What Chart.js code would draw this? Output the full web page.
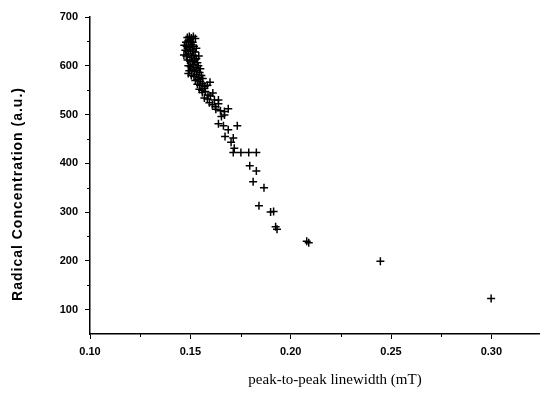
<!DOCTYPE html>
<html>
<head>
<meta charset="utf-8">
<script src="https://cdn.jsdelivr.net/npm/chart.js@4/dist/chart.umd.min.js"></script>
<style>
html,body{margin:0;padding:0;background:#fff;}
#wrap{width:545px;height:394px;position:relative;}
</style>
</head>
<body>
<div id="wrap"><canvas id="c" width="545" height="394"></canvas></div>
<script>
// ---- data ----
const linewidth = [
  0.1485,0.1495,0.1505,0.1515,0.1525,0.1490,0.1500,0.1512,0.1478,
  0.1470,0.1482,0.1494,0.1506,0.1518,0.1530,0.1475,0.1488,0.1500,0.1512,0.1524,
  0.1468,0.1480,0.1492,0.1505,0.1517,0.1530,0.1542,0.1486,0.1498,0.1510,0.1522,0.1535,
  0.1490,0.1502,0.1515,0.1528,0.1540,0.1550,0.1495,0.1508,0.1520,0.1533,0.1546,
  0.1505,0.1518,0.1530,0.1542,0.1555,0.1525,0.1538,0.1550,0.1562,0.1490,
  0.1535,0.1548,0.1560,0.1572,0.1545,0.1558,0.1570,0.1585,0.1598,
  0.1560,0.1575,0.1588,0.1600,0.1612,0.1570,0.1585,0.1620,0.1640,
  0.1595,0.1610,0.1625,0.1640,0.1627,0.1650,0.1670,0.1689,0.1670,0.1655,
  0.1640,0.1665,0.1689,0.1734,0.1673,0.1714,0.1703,0.1719,
  0.1714,0.1752,0.1791,0.1829,0.1796,0.1829,0.1813,0.1867,
  0.1842,0.1900,0.1915,0.1925,0.1932,0.2080,0.2090,0.2447,0.2999
];
const concentration = [
  658,660,657,660,656,652,650,648,648,
  642,640,638,643,640,636,632,630,633,630,628,
  622,620,624,618,621,615,620,612,610,608,612,606,
  600,598,602,596,600,594,590,592,588,590,586,
  580,578,582,576,580,570,572,568,574,584,
  562,560,564,558,552,550,554,560,566,
  545,547,540,538,544,534,532,530,530,
  524,520,516,522,511,508,506,512,499,496,
  481,477,469,477,455,452,443,431,
  422,422,422,422,395,384,362,350,
  313,300,301,270,265,240,237,199,123
];
const xTickValues = [0.10,0.15,0.20,0.25,0.30];
const xMinorValues = [0.125,0.175,0.225,0.275];
const yTickValues = [100,200,300,400,500,600,700];
const yMinorValues = [150,250,350,450,550,650];
const xTitle = 'peak-to-peak linewidth (mT)';
const yTitle = 'Radical Concentration (a.u.)';

const points = linewidth.map((x,i)=>({x:x, y:concentration[i]}));

const extras = {
  id:'extras',
  afterDraw(chart){
    const ctx = chart.ctx;
    const xs = chart.scales.x, ys = chart.scales.y;
    const ca = chart.chartArea;
    ctx.save();
    ctx.strokeStyle = '#000';
    ctx.lineWidth = 1;
    xMinorValues.forEach(v=>{
      const px = Math.round(xs.getPixelForValue(v))+0.5;
      ctx.beginPath(); ctx.moveTo(px, ca.bottom); ctx.lineTo(px, ca.bottom+3); ctx.stroke();
    });
    yMinorValues.forEach(v=>{
      const py = Math.round(ys.getPixelForValue(v))+0.5;
      ctx.beginPath(); ctx.moveTo(ca.left-3, py); ctx.lineTo(ca.left, py); ctx.stroke();
    });
    // titles
    ctx.fillStyle = '#000';
    ctx.textAlign = 'center';
    ctx.textBaseline = 'middle';
    ctx.font = '15px "Liberation Serif", "Times New Roman", serif';
    ctx.fillText(xTitle, 335, 380);
    ctx.translate(18, 194);
    ctx.rotate(-Math.PI/2);
    ctx.font = 'bold 14px "Liberation Sans", Arial, sans-serif';
    try { ctx.letterSpacing = '1px'; } catch(e) {}
    ctx.fillText(yTitle, 0, 0);
    ctx.restore();
  }
};

new Chart(document.getElementById('c'), {
  type:'scatter',
  data:{datasets:[{
    data: points,
    pointStyle:'cross',
    pointRadius:4,
    pointHoverRadius:4,
    borderColor:'#000',
    backgroundColor:'#000',
    borderWidth:1.5
  }]},
  options:{
    responsive:false,
    animation:false,
    events:[],
    layout:{padding:{top:17,right:0,left:0,bottom:0}},
    plugins:{legend:{display:false},tooltip:{enabled:false}},
    scales:{
      x:{
        type:'linear', min:0.10, max:0.324,
        afterBuildTicks(s){ s.ticks = xTickValues.map(v=>({value:v})); },
        afterFit(s){ s.height = 60; },
        grid:{display:true, drawOnChartArea:false, drawTicks:true, tickLength:5, color:'#000', lineWidth:1},
        border:{display:true, color:'#000', width:1.5},
        ticks:{color:'#000', padding:6, maxRotation:0, autoSkip:false,
          font:{family:'"Liberation Sans", Arial, sans-serif', size:11, weight:'bold'},
          callback:(v)=>Number(v).toFixed(2)}
      },
      y:{
        type:'linear', min:50, max:700,
        afterBuildTicks(s){ s.ticks = yTickValues.map(v=>({value:v})); },
        afterFit(s){ s.width = 90; },
        grid:{display:true, drawOnChartArea:false, drawTicks:true, tickLength:5, color:'#000', lineWidth:1},
        border:{display:true, color:'#000', width:1.5},
        ticks:{color:'#000', padding:7,
          font:{family:'"Liberation Sans", Arial, sans-serif', size:11, weight:'bold'},
          callback:(v)=>String(v)}
      }
    }
  },
  plugins:[extras]
});
</script>
</body>
</html>
